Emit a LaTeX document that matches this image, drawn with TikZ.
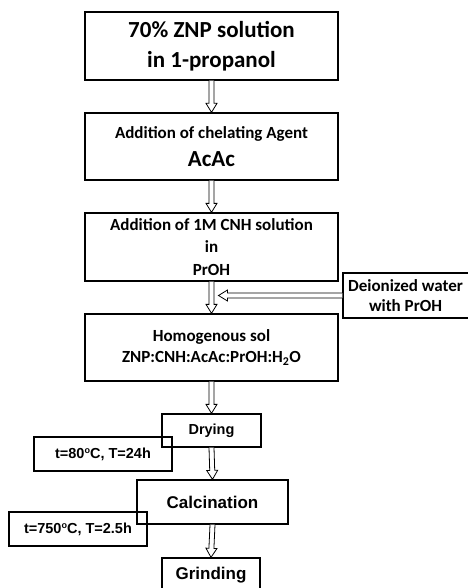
\documentclass[tikz,border=0pt]{standalone}
\usepackage{fontspec}
\setmainfont{Carlito}
\newfontfamily\arialf{Liberation Sans}
\usetikzlibrary{calc}
\tikzset{
  box/.style={draw=black, line width=1.3pt, inner sep=0pt, align=center},
  abox/.style={draw=black, line width=1.3pt, inner sep=0pt, align=center},
  hollow/.style={draw=black, line width=0.8pt, fill=white, line join=miter}
}
\newcommand\harr[2]{%
  \coordinate (hs) at (#1);
  \coordinate (he) at (#2);
  \coordinate (hb) at ($(he)!9pt!(hs)$);
  \draw[hollow] ($(hs)!2.5pt!90:(he)$) -- ($(hb)!2.5pt!-90:(hs)$) -- ($(hb)!5.5pt!-90:(hs)$) -- (he) -- ($(hb)!5.5pt!90:(hs)$) -- ($(hb)!2.5pt!90:(hs)$) -- ($(hs)!2.5pt!-90:(he)$);
}
\newcommand\degsup{\raisebox{0.55ex}{\fontsize{9}{9}\selectfont o}}
\begin{document}
\begin{tikzpicture}[x=1pt,y=-1pt]
\useasboundingbox (0,0) rectangle (467,588);
\node[box, minimum width=253pt, minimum height=68pt, font=\bfseries\fontsize{23}{30}\selectfont] (b1) at (211.5,46)
  {70\% ZNP solution\\ in 1-propanol};
\node[box, minimum width=253pt, minimum height=67pt, font=\bfseries\fontsize{17}{21}\selectfont] (b2) at (211.5,146.5)
  {Addition of chelating Agent\\[7pt] {\fontsize{23}{26}\selectfont AcAc}};
\node[box, minimum width=253pt, minimum height=68pt, font=\bfseries\fontsize{17}{22.5}\selectfont] (b3) at (211.5,247)
  {Addition of 1M CNH solution\\ in\\ PrOH};
\node[box, minimum width=253pt, minimum height=67pt, font=\bfseries\fontsize{17}{21}\selectfont] (b4) at (211.5,347.5)
  {Homogenous sol\\ ZNP:CNH:AcAc:PrOH:H\textsubscript{2}O};
\node[box, minimum width=130pt, minimum height=45pt, font=\bfseries\fontsize{17}{20}\selectfont] (dw) at (408,295.5)
  {\hspace*{-5pt}Deionized water\\ \hspace*{-5pt}with PrOH};
\node[abox, minimum width=99pt, minimum height=33pt, font=\arialf\bfseries\fontsize{14.5}{16}\selectfont] (dry) at (211.5,430.5)
  {Drying};
\node[abox, minimum width=138pt, minimum height=34pt, font=\arialf\bfseries\fontsize{14.5}{16}\selectfont] (t1) at (103,454)
  {t=80\degsup C, T=24h};
\node[abox, minimum width=151pt, minimum height=44pt, font=\arialf\bfseries\fontsize{17}{20}\selectfont] (cal) at (212.5,502)
  {Calcination};
\node[abox, minimum width=138pt, minimum height=34pt, font=\arialf\bfseries\fontsize{14.5}{16}\selectfont] (t2) at (78,529)
  {t=750\degsup C, T=2.5h};
\node[abox, minimum width=98pt, minimum height=34pt, font=\arialf\bfseries\fontsize{17}{20}\selectfont] (gr) at (211,575)
  {Grinding};
\harr{b1.south}{b2.north}
\harr{b2.south}{b3.north}
\harr{b3.south}{b4.north}
\coordinate (tipw) at ($(b3.south |- dw.west)+(7pt,0)$);
\harr{dw.west}{tipw}
\harr{b4.south}{dry.north}
\harr{dry.south}{cal.north}
\harr{cal.south}{gr.north}
\end{tikzpicture}
\end{document}
